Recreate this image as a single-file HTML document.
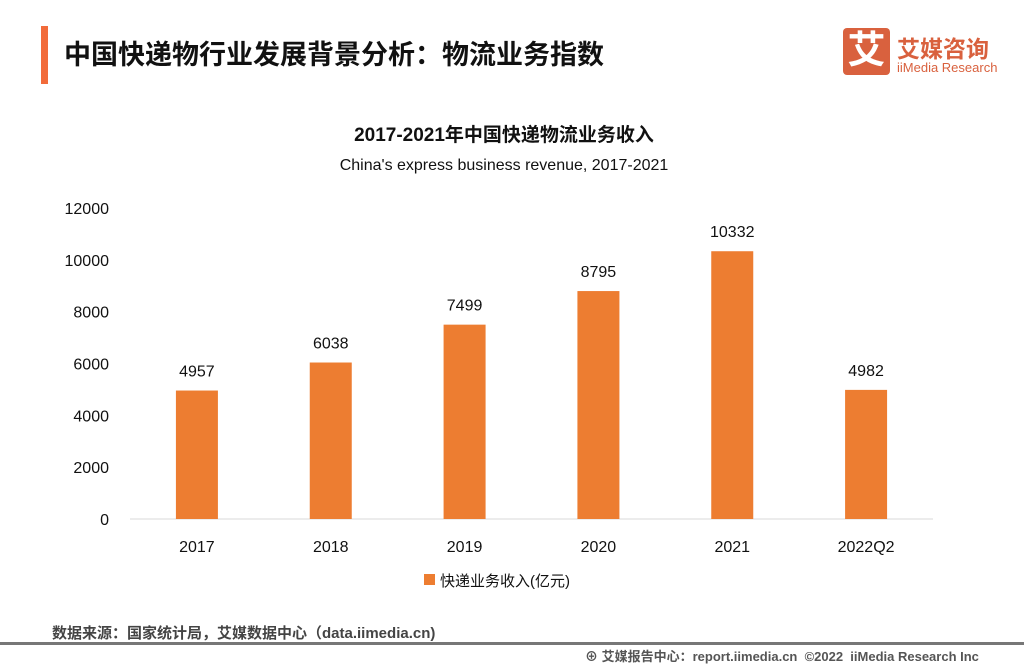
<!DOCTYPE html>
<html><head><meta charset="utf-8"><style>
body{margin:0;width:1024px;height:666px;background:#fff;position:relative;overflow:hidden;font-family:"Liberation Sans","Noto Sans CJK SC",sans-serif;}
.a{position:absolute;white-space:nowrap;}
</style></head><body>
<div class="a" style="left:41px;top:26px;width:7px;height:58px;background:#f26b3a"></div>
<div class="a" style="left:64px;top:33px;font-size:27px;font-weight:bold;color:#111">中国快递物行业发展背景分析：物流业务指数</div>
<div class="a" style="left:843px;top:28px;width:47px;height:47px;background:#d9613e;border-radius:4px;color:#fff;font-size:38px;font-weight:bold;text-align:center;line-height:47px">艾</div>
<div class="a" style="left:897px;top:30px;font-size:23px;font-weight:bold;color:#d9613e">艾媒咨询</div>
<div class="a" style="left:897px;top:60px;font-size:13px;color:#d9613e">iiMedia Research</div>
<div class="a" style="left:0;width:1024px;text-align:center;top:120px;font-size:19px;font-weight:bold;color:#111;padding-right:16px;box-sizing:border-box">2017-2021年中国快递物流业务收入</div>
<div class="a" style="left:0;width:1024px;text-align:center;top:157px;font-size:16px;color:#111;padding-right:16px;box-sizing:border-box">China's express business revenue, 2017-2021</div>
<svg class="a" style="left:0;top:0" width="1024" height="666" id="chart"></svg>
<div class="a" style="left:424px;top:574px;width:11px;height:11px;background:#ed7d31"></div>
<div class="a" style="left:440px;top:570px;font-size:15px;color:#111">快递业务收入(亿元)</div>
<div class="a" style="left:52px;top:622px;font-size:15px;font-weight:bold;color:#444">数据来源：国家统计局，艾媒数据中心（data.iimedia.cn)</div>
<div class="a" style="left:0;top:642px;width:1024px;height:3px;background:#777"></div>
<div class="a" style="left:585px;top:646px;font-size:13px;font-weight:bold;color:#555">⊕ 艾媒报告中心：report.iimedia.cn &nbsp;©2022 &nbsp;iiMedia Research Inc</div>
<script>
const categories=["2017","2018","2019","2020","2021","2022Q2"];
const values=[4957,6038,7499,8795,10332,4982];
const yTicks=[0,2000,4000,6000,8000,10000,12000];
const svg=document.getElementById('chart');
const NS='http://www.w3.org/2000/svg';
const y0=519,yTop=208,yMax=12000,xL=130,xR=933;
const y=v=>y0-(y0-yTop)*v/yMax;
const step=(xR-xL)/categories.length;
const x=i=>xL+step*(i+0.5);
function mk(t,a){const e=document.createElementNS(NS,t);for(const k in a)e.setAttribute(k,a[k]);svg.appendChild(e);return e;}
yTicks.forEach(t=>{const e=mk('text',{x:109,y:y(t)+6,'text-anchor':'end','font-size':16,fill:'#111','font-family':'Liberation Sans, sans-serif'});e.textContent=t;

});
const ax=mk('line',{x1:xL,x2:xR,y1:y0,y2:y0,stroke:'#d9d9d9','stroke-width':1});


categories.forEach((c,i)=>{
const b=mk('rect',{x:x(i)-21,y:y(values[i]),width:42,height:y0-y(values[i]),fill:'#ed7d31'});


const l=mk('text',{x:x(i),y:y(values[i])-14,'text-anchor':'middle','font-size':16,fill:'#111','font-family':'Liberation Sans, sans-serif'});l.textContent=values[i];


const t=mk('text',{x:x(i),y:552,'text-anchor':'middle','font-size':16,fill:'#111','font-family':'Liberation Sans, sans-serif'});t.textContent=c;


});
</script>
</body></html>
